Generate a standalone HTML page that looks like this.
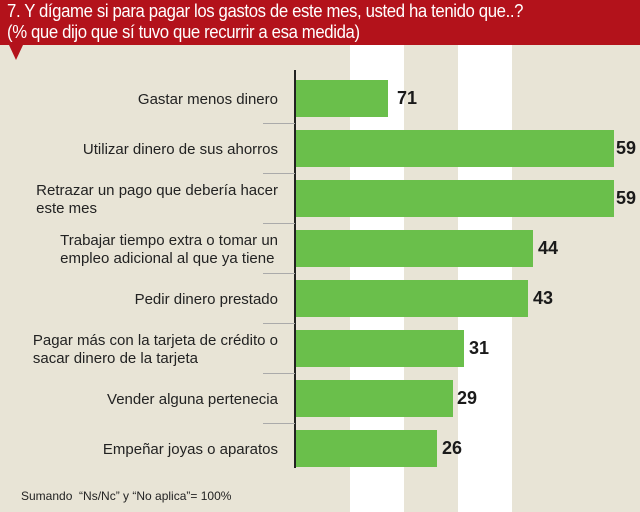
<!DOCTYPE html>
<html><head><meta charset="utf-8"><style>
body{margin:0;width:640px;height:512px;overflow:hidden;background:#e8e4d6;font-family:"Liberation Sans",sans-serif;position:relative}
.hd{position:absolute;left:0;top:0;width:640px;height:45px;background:#b3121b}
.hdt{position:absolute;left:7px;top:1px;color:#fff;font-size:18px;line-height:21px;letter-spacing:-0.4px;white-space:nowrap;transform:scaleX(0.93);transform-origin:0 0}
.tri{position:absolute;left:9px;top:45px;width:0;height:0;border-left:7px solid transparent;border-right:7px solid transparent;border-top:15px solid #b3121b}
.ws{position:absolute;top:45px;height:467px;background:#fff}
.bar{position:absolute;left:296px;height:37px;background:#6abf4b}
.v{position:absolute;font-weight:bold;font-size:18px;color:#1a1a1a}
.l{position:absolute;right:362px;width:290px;text-align:right;font-size:15px;line-height:18px;color:#222}
.l span{display:inline-block;text-align:left;white-space:nowrap}
.sep{position:absolute;left:263px;width:32px;height:1px;background:#aaa}
</style></head><body>
<div class="ws" style="left:350px;width:54px"></div>
<div class="ws" style="left:458px;width:54px"></div>
<div class="hd"><div class="hdt">7. Y dígame si para pagar los gastos de este mes, usted ha tenido que..?<br>(% que dijo que sí tuvo que recurrir a esa medida)</div></div>
<div class="tri"></div>
<div style="position:absolute;left:294px;top:70px;width:2px;height:398px;background:#222"></div>

<div class="bar" style="top:80px;width:92px"></div><div class="v" style="left:397px;top:88px">71</div>
<div class="bar" style="top:130px;width:318px"></div><div class="v" style="left:616px;top:138px">59</div>
<div class="bar" style="top:180px;width:318px"></div><div class="v" style="left:616px;top:188px">59</div>
<div class="bar" style="top:230px;width:237px"></div><div class="v" style="left:538px;top:238px">44</div>
<div class="bar" style="top:280px;width:232px"></div><div class="v" style="left:533px;top:288px">43</div>
<div class="bar" style="top:330px;width:168px"></div><div class="v" style="left:469px;top:338px">31</div>
<div class="bar" style="top:380px;width:157px"></div><div class="v" style="left:457px;top:388px">29</div>
<div class="bar" style="top:430px;width:141px"></div><div class="v" style="left:442px;top:438px">26</div>

<div class="sep" style="top:123px"></div><div class="sep" style="top:173px"></div><div class="sep" style="top:223px"></div><div class="sep" style="top:273px"></div><div class="sep" style="top:323px"></div><div class="sep" style="top:373px"></div><div class="sep" style="top:423px"></div>

<div class="l" style="top:91px"><span>Gastar menos dinero</span></div>
<div class="l" style="top:141px"><span>Utilizar dinero de sus ahorros</span></div>
<div class="l" style="top:182px"><span>Retrazar un pago que debería hacer<br>este mes</span></div>
<div class="l" style="top:232px"><span>Trabajar tiempo extra o tomar un<br>empleo adicional al que ya tiene</span></div>
<div class="l" style="top:291px"><span>Pedir dinero prestado</span></div>
<div class="l" style="top:332px"><span>Pagar más con la tarjeta de crédito o<br>sacar dinero de la tarjeta</span></div>
<div class="l" style="top:391px"><span>Vender alguna pertenecia</span></div>
<div class="l" style="top:441px"><span>Empeñar joyas o aparatos</span></div>
<div style="position:absolute;left:21px;top:489px;font-size:12px;color:#222">Sumando &nbsp;“Ns/Nc” y “No aplica”= 100%</div>
</body></html>
